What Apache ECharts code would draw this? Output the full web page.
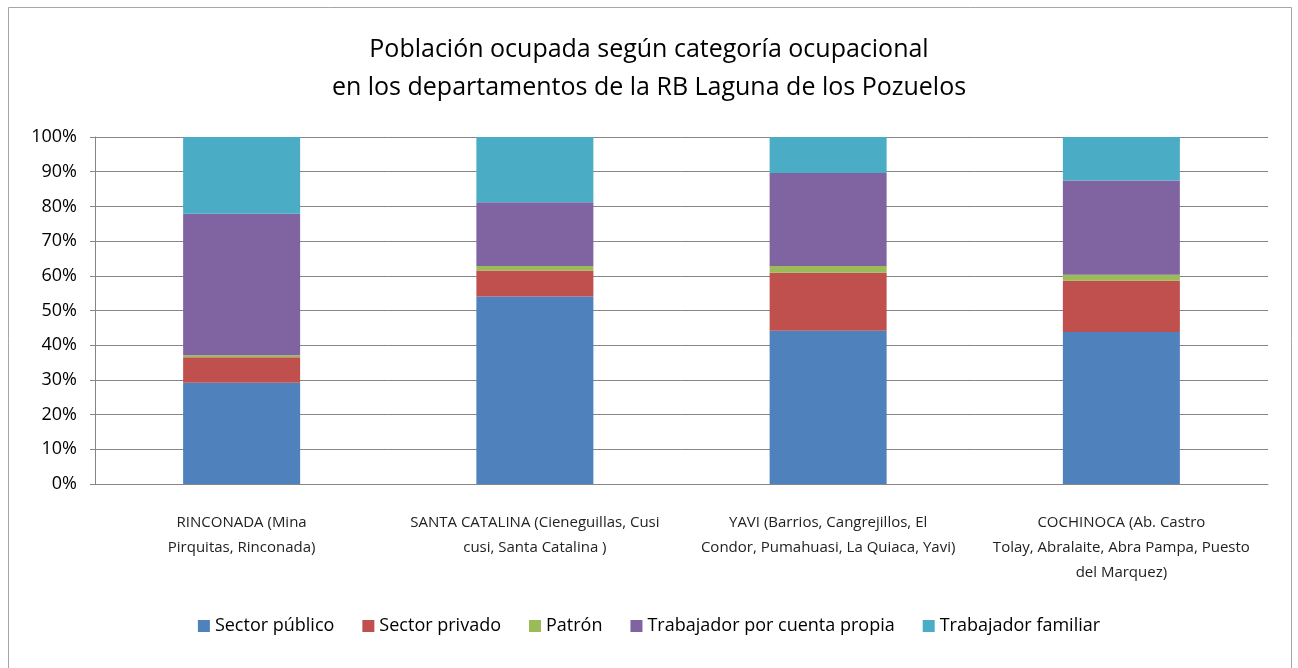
<!DOCTYPE html>
<html>
<head>
<meta charset="utf-8">
<script src="https://cdn.jsdelivr.net/npm/echarts@6/dist/echarts.min.js"></script>
<style>
  html, body { margin: 0; padding: 0; background: #fff; }
  #main { width: 1298px; height: 668px; }
</style>
</head>
<body>
<div id="main"></div>
<script>
  // departamentos (con los saltos de linea del original)
  var categories = [
    'RINCONADA (Mina\nPirquitas, Rinconada)',
    'SANTA CATALINA (Cieneguillas, Cusi\ncusi, Santa Catalina )',
    'YAVI (Barrios, Cangrejillos, El\nCondor, Pumahuasi, La Quiaca, Yavi)',
    'COCHINOCA (Ab. Castro\nTolay, Abralaite, Abra Pampa, Puesto\ndel Marquez)'
  ];
  // porcentajes
  var sectorPublico = [29.2, 54.0, 44.2, 43.8];
  var sectorPrivado = [7.3, 7.5, 16.7, 14.8];
  var patron = [0.6, 1.3, 1.9, 1.7];
  var cuentaPropia = [40.8, 18.4, 26.8, 27.2];
  var familiar = [22.1, 18.8, 10.4, 12.5];

  var names = ['Sector público', 'Sector privado', 'Patrón', 'Trabajador por cuenta propia', 'Trabajador familiar'];
  var values = [sectorPublico, sectorPrivado, patron, cuentaPropia, familiar];
  var colors = ['#4F81BD', '#C0504D', '#9BBB59', '#8064A2', '#4BACC6'];
  var font = '"Liberation Sans Narrow", "Open Sans", sans-serif';

  var chart = echarts.init(document.getElementById('main'));
  var option = {
    animation: false,
    color: colors,
    title: {
      text: 'Población ocupada según categoría ocupacional\nen los departamentos de la RB Laguna de los Pozuelos',
      left: 'center',
      top: 26,
      textStyle: {
        fontFamily: '"Open Sans", sans-serif',
        fontWeight: 'normal',
        fontSize: 25,
        lineHeight: 38,
        color: '#000'
      }
    },
    graphic: [{
      type: 'rect',
      shape: { x: 8.5, y: 7.5, width: 1283, height: 700 },
      style: { fill: 'none', stroke: '#a6a6a6', lineWidth: 1 },
      silent: true
    }],
    legend: {
      data: names,
      top: 612,
      left: 'center',
      itemWidth: 12,
      itemHeight: 12,
      itemGap: 28,
      icon: 'rect',
      textStyle: { fontFamily: font, fontSize: 18, color: '#000' }
    },
    grid: { left: 95, right: 30, top: 137, bottom: 184 },
    xAxis: {
      type: 'category',
      data: categories,
      axisLine: { lineStyle: { color: '#868686' } },
      axisTick: { length: 6, lineStyle: { color: '#868686' } },
      axisLabel: {
        interval: 0,
        margin: 26,
        fontFamily: font,
        fontSize: 15,
        lineHeight: 25,
        color: '#222'
      }
    },
    yAxis: {
      type: 'value',
      min: 0,
      max: 100,
      interval: 10,
      axisLine: { show: true, lineStyle: { color: '#868686' } },
      axisTick: { show: true, length: 5, lineStyle: { color: '#868686' } },
      splitLine: { lineStyle: { color: '#868686' } },
      axisLabel: {
        formatter: '{value}%',
        margin: 18,
        fontFamily: font,
        fontSize: 18,
        color: '#000'
      }
    },
    series: names.map(function (n, i) {
      return {
        name: n,
        type: 'bar',
        stack: 'total',
        barWidth: 117,
        data: values[i]
      };
    })
  };
  chart.setOption(option);
</script>
</body>
</html>
